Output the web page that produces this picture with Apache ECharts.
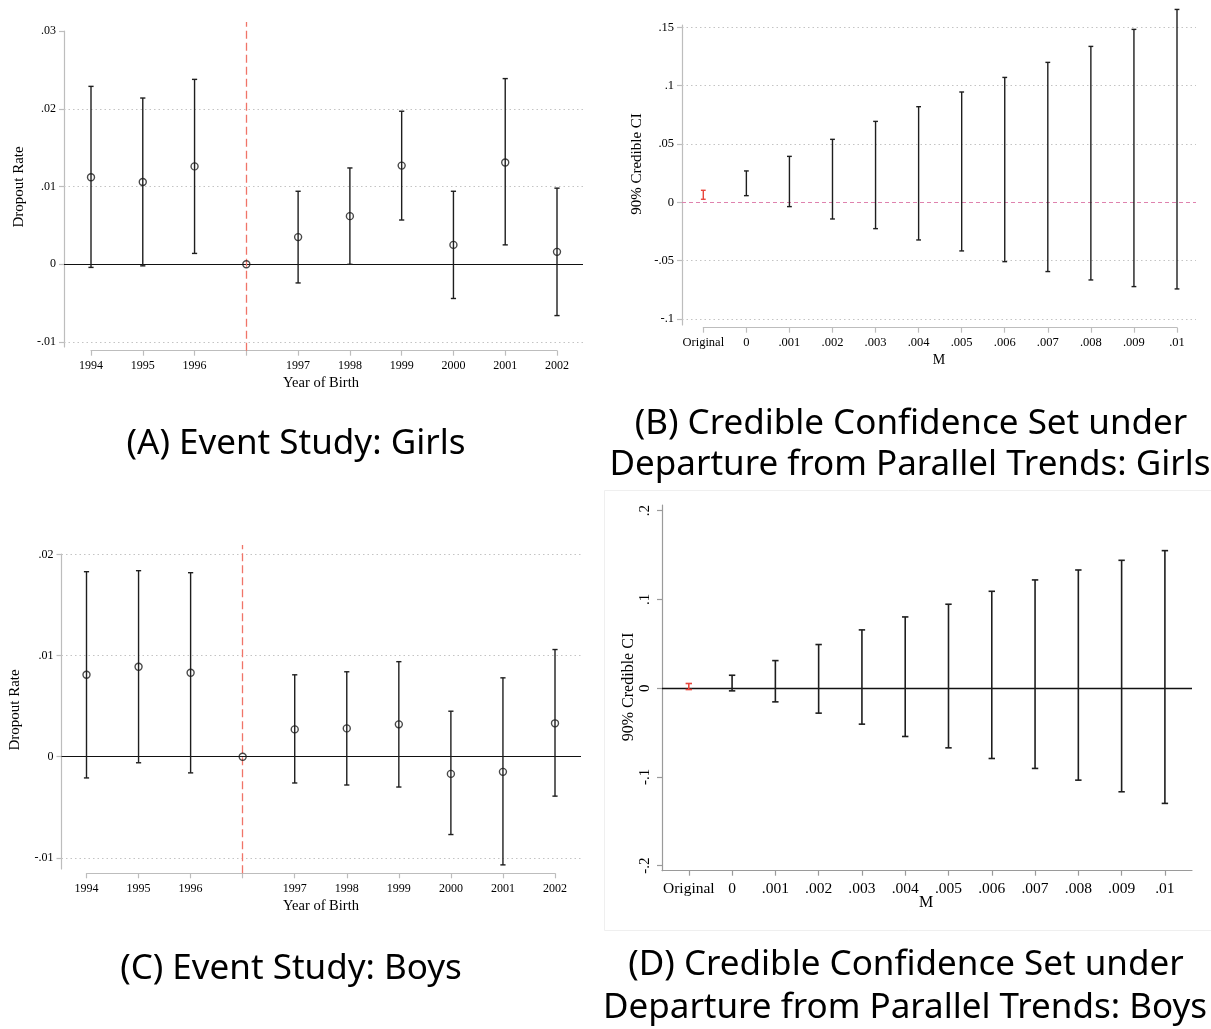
<!DOCTYPE html>
<html>
<head>
<meta charset="utf-8">
<script src="https://cdn.jsdelivr.net/npm/echarts@6/dist/echarts.min.js"></script>
<style>html,body{margin:0;padding:0;background:#fff;}#c{width:1211px;height:1029px;}</style>
</head>
<body>
<div id="c"></div>
<script>
// ---------- DATA ----------
const A_cats = ['1994','1995','1996','','1997','1998','1999','2000','2001','2002'];
const A_est  = [0.0112, 0.0106, 0.0126, 0, 0.0035, 0.0062, 0.0127, 0.0025, 0.0131, 0.0016];
const A_lo   = [-0.0004, -0.0002, 0.0014, null, -0.0024, 0.0000, 0.0057, -0.0044, 0.0025, -0.0066];
const A_hi   = [0.0229, 0.0214, 0.0238, null, 0.0094, 0.0124, 0.0197, 0.0094, 0.0239, 0.0098];
const A_yticks = [-0.01, 0, 0.01, 0.02, 0.03];
const A_grid   = [-0.01, 0.01, 0.02];

const C_cats = ['1994','1995','1996','','1997','1998','1999','2000','2001','2002'];
const C_est  = [0.0081, 0.0089, 0.0083, 0, 0.0027, 0.0028, 0.0032, -0.0017, -0.0015, 0.0033];
const C_lo   = [-0.0021, -0.0006, -0.0016, null, -0.0026, -0.0028, -0.0030, -0.0077, -0.0107, -0.0039];
const C_hi   = [0.0183, 0.0184, 0.0182, null, 0.0081, 0.0084, 0.0094, 0.0045, 0.0078, 0.0106];
const C_yticks = [-0.01, 0, 0.01, 0.02];
const C_grid   = [-0.01, 0.01, 0.02];

const B_cats = ['Original','0','.001','.002','.003','.004','.005','.006','.007','.008','.009','.01'];
const B_lo   = [0.0026, 0.0057, -0.0037, -0.0143, -0.0226, -0.0323, -0.0417, -0.0509, -0.0594, -0.0666, -0.0723, -0.0743];
const B_hi   = [0.0103, 0.0269, 0.0394, 0.0540, 0.0694, 0.0820, 0.0946, 0.1071, 0.1200, 0.1337, 0.1483, 0.1654];
const B_yticks = [-0.1, -0.05, 0, 0.05, 0.1, 0.15];
const B_grid   = [-0.1, -0.05, 0.05, 0.1, 0.15];

const D_cats = ['Original','0','.001','.002','.003','.004','.005','.006','.007','.008','.009','.01'];
const D_lo   = [-0.0015, -0.0030, -0.0154, -0.0281, -0.0405, -0.0544, -0.0672, -0.0792, -0.0904, -0.1036, -0.1167, -0.1298];
const D_hi   = [0.0053, 0.0146, 0.0311, 0.0492, 0.0657, 0.0803, 0.0946, 0.1092, 0.1220, 0.1332, 0.1441, 0.1550];
const D_yticks = [-0.2, -0.1, 0, 0.1, 0.2];

// ---------- HELPERS ----------
const SERIF = '"Liberation Serif", "DejaVu Serif", serif';
const SANS = '"Noto Sans", "Open Sans", sans-serif';
function fmt(v) {
  if (Math.abs(v) < 1e-12) return '0';
  const s = String(Math.abs(+v.toFixed(6))).replace(/^0/, '');
  return (v < 0 ? '-' : '') + s;
}

const grids = [], xAxes = [], yAxes = [], series = [], graphics = [];

function addPanel(p) {
  const g0 = grids.length;
  const v = px => (p.zeroY - px) / p.ppu;
  grids.push({left: p.axisX, top: p.yTop, width: p.rightX - p.axisX, height: p.yBot - p.yTop, outerBoundsMode: 'none', containLabel: false});
  grids.push({left: p.firstX, top: p.dataTop, width: p.lastX - p.firstX, height: p.dataBot - p.dataTop, outerBoundsMode: 'none', containLabel: false});
  const ax0 = xAxes.length, ay0 = yAxes.length;
  // frame axes
  xAxes.push({gridIndex: g0, type: 'value', min: 0, max: 1, position: 'bottom',
    axisLine: {show: !!p.boxX, onZero: false, lineStyle: {color: p.axisColor, width: 1.2}},
    axisTick: {show: false}, axisLabel: {show: false}, splitLine: {show: false}});
  yAxes.push({gridIndex: g0, type: 'value', min: v(p.yBot), max: v(p.yTop), position: 'left',
    axisLine: {show: true, onZero: false, lineStyle: {color: p.axisColor, width: 1.2}},
    axisTick: {show: true, customValues: p.yticks, length: 5, lineStyle: {color: p.axisColor, width: 1.2}},
    axisLabel: {show: true, customValues: p.yticks, formatter: fmt, margin: p.yLabelMargin, rotate: p.yRotate || 0,
      fontFamily: SERIF, fontSize: p.yFont, color: '#000'},
    splitLine: {show: false}});
  // data axes
  xAxes.push({gridIndex: g0 + 1, type: 'category', data: p.cats, boundaryGap: false, position: 'bottom',
    axisLine: {show: !p.boxX, onZero: false, lineStyle: {color: p.axisColor, width: 1.2}},
    axisTick: {show: true, length: 5, interval: 0, lineStyle: {color: p.axisColor, width: 1.2}},
    axisLabel: {show: true, interval: 0, margin: p.xLabelMargin, fontFamily: SERIF, fontSize: p.xFont, color: '#000'},
    splitLine: {show: false}});
  yAxes.push({gridIndex: g0 + 1, type: 'value', min: v(p.dataBot), max: v(p.dataTop), show: false, splitLine: {show: false}});

  // gridlines
  if (p.gridVals && p.gridVals.length) {
    series.push({type: 'line', xAxisIndex: ax0, yAxisIndex: ay0, data: [], silent: true,
      markLine: {silent: true, symbol: ['none', 'none'], label: {show: false}, animation: false,
        lineStyle: {type: [1.5, 3], color: '#c4c4c4', width: 1},
        data: p.gridVals.map(g => ({yAxis: g}))}});
  }
  // zero line
  series.push({type: 'line', xAxisIndex: ax0, yAxisIndex: ay0, data: [], silent: true, z: 3,
    markLine: {silent: true, symbol: ['none', 'none'], label: {show: false}, animation: false,
      lineStyle: p.zeroStyle, data: [{yAxis: 0}]}});
  // event line
  if (p.eventIdx != null) {
    series.push({type: 'line', xAxisIndex: ax0 + 1, yAxisIndex: ay0 + 1, data: [], silent: true, z: 4,
      markLine: {silent: true, symbol: ['none', 'none'], label: {show: false}, animation: false,
        lineStyle: {type: [8, 4], color: '#f07468', width: 1.3}, data: [{xAxis: p.eventIdx}]}});
  }
  // error bars
  const ebData = [];
  p.lo.forEach((l, i) => { if (l != null && p.hi[i] != null) ebData.push([i, l, p.hi[i]]); });
  series.push({type: 'custom', xAxisIndex: ax0 + 1, yAxisIndex: ay0 + 1, clip: false, z: 5,
    encode: {x: 0, y: [1, 2]}, data: ebData,
    renderItem: function (params, api) {
      const idx = api.value(0);
      const a = api.coord([idx, api.value(1)]);
      const b = api.coord([idx, api.value(2)]);
      const col = (p.redFirst && idx === 0) ? '#e8463c' : '#1e1e1e';
      const st = {stroke: col, lineWidth: p.lw};
      const w = p.cap;
      return {type: 'group', children: [
        {type: 'line', shape: {x1: a[0], y1: a[1], x2: b[0], y2: b[1]}, style: st},
        {type: 'line', shape: {x1: a[0] - w, y1: a[1], x2: a[0] + w, y2: a[1]}, style: st},
        {type: 'line', shape: {x1: b[0] - w, y1: b[1], x2: b[0] + w, y2: b[1]}, style: st}
      ]};
    }});
  // point estimates
  if (p.est) {
    series.push({type: 'scatter', xAxisIndex: ax0 + 1, yAxisIndex: ay0 + 1, z: 6, clip: false,
      symbol: 'circle', symbolSize: 7,
      itemStyle: {color: 'rgba(0,0,0,0)', borderColor: '#1a1a1a', borderWidth: 1.4},
      data: p.est.map((e, i) => [i, e])});
  }
}

function txt(x, y, s, size, family, rot) {
  graphics.push({type: 'text', x: x, y: y, rotation: rot || 0, silent: true,
    style: {text: s, fill: '#000', font: size + 'px ' + family,
      align: 'center', verticalAlign: 'middle', textAlign: 'center', textVerticalAlign: 'middle'}});
}

// ---------- PANELS ----------
addPanel({axisX: 64, rightX: 583, yTop: 31, yBot: 347, dataTop: 22, dataBot: 350.7,
  zeroY: 264.3, ppu: 7770, firstX: 91, lastX: 557, cats: A_cats, yticks: A_yticks, gridVals: A_grid,
  est: A_est, lo: A_lo, hi: A_hi, eventIdx: A_cats.indexOf(''), axisColor: '#bdbdbd',
  zeroStyle: {type: 'solid', color: '#111', width: 1.2}, yLabelMargin: 8, xLabelMargin: 9,
  yFont: 12, xFont: 12, lw: 1.4, cap: 2.6});

addPanel({axisX: 682, rightX: 1196, yTop: 25, yBot: 325, dataTop: 5, dataBot: 327.7,
  zeroY: 202.3, ppu: 1166, firstX: 703.3, lastX: 1177, cats: B_cats, yticks: B_yticks, gridVals: B_grid,
  est: null, lo: B_lo, hi: B_hi, eventIdx: null, axisColor: '#bdbdbd', redFirst: true,
  zeroStyle: {type: [4, 3], color: '#df82ae', width: 1.2}, yLabelMargin: 8, xLabelMargin: 9,
  yFont: 12.5, xFont: 12.5, lw: 1.4, cap: 2.4});

addPanel({axisX: 61.5, rightX: 581, yTop: 554, yBot: 869, dataTop: 545, dataBot: 873.3,
  zeroY: 756.7, ppu: 10110, firstX: 86.5, lastX: 555, cats: C_cats, yticks: C_yticks, gridVals: C_grid,
  est: C_est, lo: C_lo, hi: C_hi, eventIdx: C_cats.indexOf(''), axisColor: '#bdbdbd',
  zeroStyle: {type: 'solid', color: '#111', width: 1.2}, yLabelMargin: 8, xLabelMargin: 10,
  yFont: 12, xFont: 12, lw: 1.4, cap: 2.6});

addPanel({axisX: 662, rightX: 1192, yTop: 505, yBot: 870.7, dataTop: 505, dataBot: 870.7,
  zeroY: 688.2, ppu: 887.5, firstX: 688.8, lastX: 1164.9, cats: D_cats, yticks: D_yticks, gridVals: [],
  est: null, lo: D_lo, hi: D_hi, eventIdx: null, axisColor: '#9a9a9a', redFirst: true, boxX: true,
  zeroStyle: {type: 'solid', color: '#111', width: 1.3}, yLabelMargin: 9, xLabelMargin: 10, yRotate: 90,
  yFont: 15, xFont: 15.5, lw: 1.6, cap: 3.2});

// ---------- AXIS TITLES ----------
txt(19, 187, 'Dropout Rate', 15, SERIF, Math.PI / 2);
txt(321, 383, 'Year of Birth', 14.5, SERIF);
txt(637, 164, '90% Credible CI', 15, SERIF, Math.PI / 2);
txt(939, 360, 'M', 14, SERIF);
txt(15, 710, 'Dropout Rate', 15, SERIF, Math.PI / 2);
txt(321, 906, 'Year of Birth', 14.5, SERIF);
txt(629, 687, '90% Credible CI', 16, SERIF, Math.PI / 2);
txt(926, 903, 'M', 16, SERIF);

// ---------- PANEL CAPTIONS ----------
txt(296, 444, '(A) Event Study: Girls', 35, SANS);
txt(911, 424, '(B) Credible Confidence Set under', 35, SANS);
txt(910, 465, 'Departure from Parallel Trends: Girls', 35, SANS);
txt(291, 969, '(C) Event Study: Boys', 35, SANS);
txt(906, 965, '(D) Credible Confidence Set under', 35, SANS);
txt(905, 1008, 'Departure from Parallel Trends: Boys', 35, SANS);

graphics.unshift({type: 'rect', silent: true, shape: {x: 604.5, y: 490.5, width: 610, height: 440},
  style: {fill: 'none', stroke: '#efefef', lineWidth: 1}});

const chart = echarts.init(document.getElementById('c'), null, {renderer: 'canvas'});
chart.setOption({
  backgroundColor: '#fff',
  animation: false,
  grid: grids,
  xAxis: xAxes,
  yAxis: yAxes,
  series: series,
  graphic: graphics
});
</script>
</body>
</html>
